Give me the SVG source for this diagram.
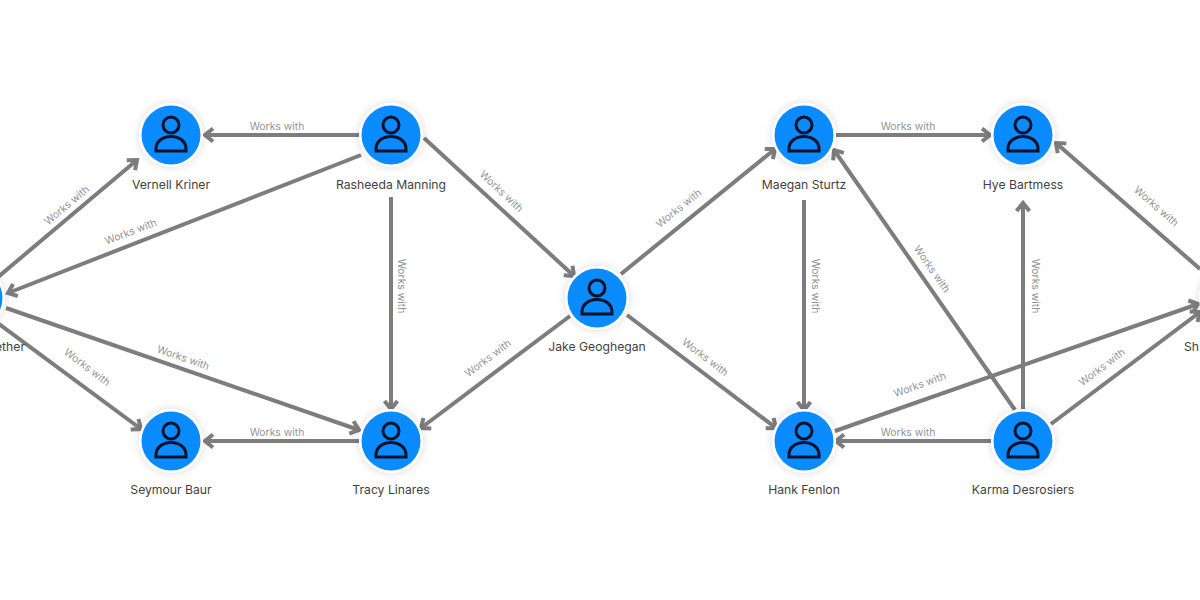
<svg xmlns="http://www.w3.org/2000/svg" width="1200" height="600" viewBox="0 0 1200 600">
<style>
.e{stroke:#7d7d7d;stroke-width:4;fill:none;marker-end:url(#a)}
.l{font:10.400px Inter,"Liberation Sans",sans-serif;fill:#949494;text-anchor:middle}
.n{font:12.200px Inter,"Liberation Sans",sans-serif;fill:#3f3f3f;text-anchor:middle}
.r{fill:#fff;filter:url(#s)}
.b{fill:#0a8bff}
.i{fill:none;stroke:#06122a;stroke-width:3}
</style>
<defs>
<marker id="a" markerUnits="userSpaceOnUse" markerWidth="18" markerHeight="18" refX="13" refY="9" orient="auto"><path d="M5 2.500L13 9L5 15.500" fill="none" stroke="#7d7d7d" stroke-width="4"/></marker>
<filter id="s" x="-30%" y="-30%" width="160%" height="160%"><feDropShadow dx="0" dy="0" stdDeviation="4" flood-color="#000" flood-opacity=".15"/></filter>
<g id="p"><circle class="r" r="32"/><circle class="b" r="29.500"/><circle class="i" cy="-10" r="8"/><path class="i" d="M-15 16H15V14C15 6 8 1.500 0 1.500S-15 6-15 14Z"/></g>
</defs>
<rect width="1200" height="600" fill="#fff"/>
<g id="connectors">
<path class="e" d="M-2 277L137 160"/>
<path class="e" d="M361 155L8 293"/>
<path class="e" d="M359 135H205"/>
<path class="e" d="M424 138L574 276"/>
<path class="e" d="M391 197V409"/>
<path class="e" d="M6 308L359 430"/>
<path class="e" d="M-5 321L141 429"/>
<path class="e" d="M359 441H205"/>
<path class="e" d="M570 316L421 428"/>
<path class="e" d="M621 274L775 149"/>
<path class="e" d="M627 315L776 428"/>
<path class="e" d="M836 135H990"/>
<path class="e" d="M804 200V410"/>
<path class="e" d="M1015 410L834 150"/>
<path class="e" d="M1023 410V203"/>
<path class="e" d="M1051 424L1200 312"/>
<path class="e" d="M991 441H836"/>
<path class="e" d="M835 431L1198 304"/>
<path class="e" d="M1200 269L1056 143"/>
</g>
<g id="edge-labels">
<text class="l" transform="translate(69 208) rotate(-40)">Works with</text>
<text class="l" transform="translate(132 235) rotate(-21)">Works with</text>
<text class="l" x="277" y="130">Works with</text>
<text class="l" transform="translate(499 194) rotate(43)">Works with</text>
<text class="l" transform="translate(398 286) rotate(90)">Works with</text>
<text class="l" transform="translate(182 361) rotate(19)">Works with</text>
<text class="l" transform="translate(85 370) rotate(37)">Works with</text>
<text class="l" x="277" y="436">Works with</text>
<text class="l" transform="translate(490 361) rotate(-37)">Works with</text>
<text class="l" transform="translate(681 211) rotate(-39)">Works with</text>
<text class="l" transform="translate(703 360) rotate(37)">Works with</text>
<text class="l" x="908" y="130">Works with</text>
<text class="l" transform="translate(812 286) rotate(90)">Works with</text>
<text class="l" transform="translate(929 271) rotate(55)">Works with</text>
<text class="l" transform="translate(1032 286) rotate(90)">Works with</text>
<text class="l" transform="translate(1104 370) rotate(-37)">Works with</text>
<text class="l" x="908" y="436">Works with</text>
<text class="l" transform="translate(921 388) rotate(-20)">Works with</text>
<text class="l" transform="translate(1154 209) rotate(41)">Works with</text>
</g>
<g id="node-vernell"><use href="#p" x="171" y="135"/><text class="n" x="171" y="189">Vernell Kriner</text></g>
<g id="node-rasheeda"><use href="#p" x="391" y="135"/><text class="n" x="391" y="189">Rasheeda Manning</text></g>
<g id="node-seymour"><use href="#p" x="171" y="441"/><text class="n" x="171" y="494">Seymour Baur</text></g>
<g id="node-tracy"><use href="#p" x="391" y="441"/><text class="n" x="391" y="494">Tracy Linares</text></g>
<g id="node-jake"><use href="#p" x="597" y="298"/><text class="n" x="597" y="351">Jake Geoghegan</text></g>
<g id="node-maegan"><use href="#p" x="804" y="135"/><text class="n" x="804" y="189">Maegan Sturtz</text></g>
<g id="node-hye"><use href="#p" x="1023" y="135"/><text class="n" x="1023" y="189">Hye Bartmess</text></g>
<g id="node-hank"><use href="#p" x="804" y="441"/><text class="n" x="804" y="494">Hank Fenlon</text></g>
<g id="node-karma"><use href="#p" x="1023" y="441"/><text class="n" x="1023" y="494">Karma Desrosiers</text></g>
<g id="node-left"><use href="#p" x="-27" y="298"/><text class="n" x="25" y="351" style="text-anchor:end">ether</text></g>
<g id="node-right"><use href="#p" x="1231" y="298"/><text class="n" x="1184" y="351" style="text-anchor:start">Sh</text></g>
</svg>
